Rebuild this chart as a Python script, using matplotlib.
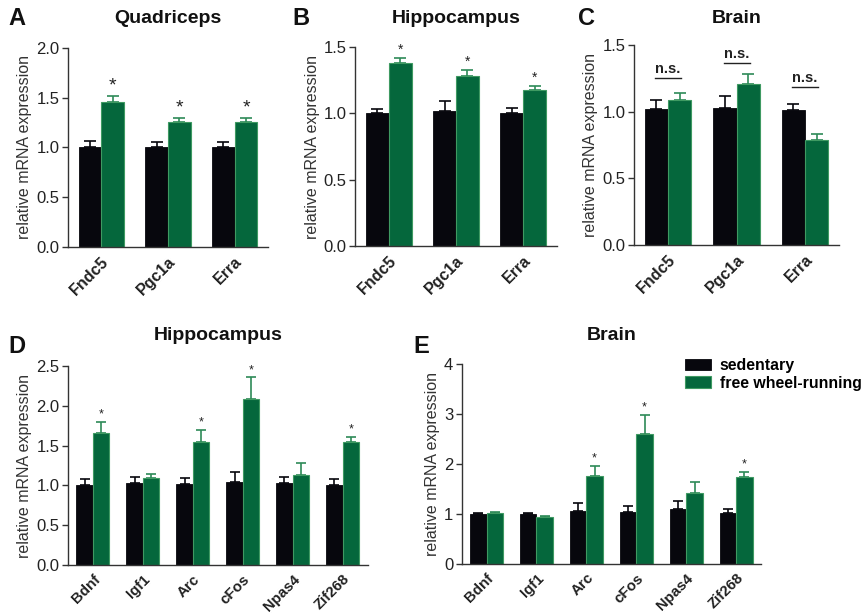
import matplotlib
matplotlib.use("Agg")
import matplotlib.pyplot as plt
import numpy as np

plt.rcParams['font.family'] = ['Liberation Sans', 'DejaVu Sans']

genes_top = ["Fndc5", "Pgc1a", "Erra"]
genes_bot = ["Bdnf", "Igf1", "Arc", "cFos", "Npas4", "Zif268"]

# Panel A: Quadriceps
a_sed = [1.00, 1.00, 1.00]
a_sed_err = [0.06, 0.05, 0.05]
a_run = [1.46, 1.26, 1.26]
a_run_err = [0.06, 0.04, 0.04]
a_sig = ["*", "*", "*"]

# Panel B: Hippocampus
b_sed = [1.00, 1.02, 1.00]
b_sed_err = [0.03, 0.07, 0.04]
b_run = [1.38, 1.28, 1.18]
b_run_err = [0.04, 0.05, 0.03]
b_sig = ["*", "*", "*"]

# Panel C: Brain
c_sed = [1.02, 1.03, 1.01]
c_sed_err = [0.07, 0.09, 0.05]
c_run = [1.09, 1.21, 0.79]
c_run_err = [0.05, 0.07, 0.04]
c_sig = ["n.s.", "n.s.", "n.s."]
c_ns_y = [1.25, 1.365, 1.185]

# Panel D: Hippocampus
d_sed = [1.01, 1.03, 1.02, 1.05, 1.03, 1.01]
d_sed_err = [0.07, 0.08, 0.08, 0.12, 0.08, 0.07]
d_run = [1.66, 1.10, 1.55, 2.09, 1.13, 1.54]
d_run_err = [0.14, 0.04, 0.15, 0.27, 0.15, 0.07]
d_sig = ["*", "", "*", "*", "", "*"]

# Panel E: Brain
e_sed = [1.00, 1.00, 1.07, 1.05, 1.10, 1.03]
e_sed_err = [0.03, 0.03, 0.15, 0.12, 0.17, 0.08]
e_run = [1.02, 0.94, 1.76, 2.60, 1.42, 1.74]
e_run_err = [0.03, 0.01, 0.21, 0.39, 0.22, 0.11]
e_sig = ["", "", "*", "*", "", "*"]

legend_labels = ["sedentary", "free wheel-running"]

BLACK = "#07070d"
GREEN = "#05673c"
GREEN_EDGE = "#3f9a62"
GREEN_ERR = "#2e8a58"
AXCOL = "#333333"
TXT = "#222222"

fig = plt.figure(figsize=(8.66, 6.13), dpi=100)


def panel(rect, cats, sed, sed_err, run, run_err, sig, ylim, yticks, yticklabels,
          title, letter, letter_xy, title_y, width, capsize, star_fs, xfs, ns_y=None,
          legend=False):
    ax = fig.add_axes(rect)
    x = np.arange(len(cats))
    b1 = ax.bar(x - width / 2, sed, width, color=BLACK, edgecolor=BLACK, linewidth=0.6,
                label=legend_labels[0], zorder=2)
    b2 = ax.bar(x + width / 2, run, width, color=GREEN, edgecolor=GREEN_EDGE, linewidth=0.8,
                label=legend_labels[1], zorder=2)
    ax.errorbar(x - width / 2, sed, yerr=[np.zeros(len(sed)), sed_err], fmt='none',
                ecolor=BLACK, elinewidth=1.2, capsize=capsize, capthick=1.2, zorder=1)
    ax.errorbar(x + width / 2, run, yerr=[np.zeros(len(run)), run_err], fmt='none',
                ecolor=GREEN_ERR, elinewidth=1.2, capsize=capsize, capthick=1.2, zorder=1)
    yr = ylim[1] - ylim[0]
    for i, s in enumerate(sig):
        if s == "*":
            top = run[i] + run_err[i]
            ax.text(x[i] + width / 2, top + 0.005 * yr, "*", ha='center', va='bottom',
                    fontsize=star_fs, color=TXT)
        elif s == "n.s.":
            top = ns_y[i]
            ax.plot([x[i] - 0.19, x[i] + 0.19], [top, top], color=TXT, lw=1.0)
            ax.text(x[i], top + 0.01 * yr, "n.s.", ha='center', va='bottom',
                    fontsize=10.5, fontweight='bold', color=TXT)
    ax.set_xlim(-0.5, len(cats) - 0.5)
    ax.set_ylim(*ylim)
    ax.set_yticks(yticks)
    ax.set_yticklabels(yticklabels, fontsize=12, color=TXT)
    ax.set_xticks(x)
    ax.set_xticklabels(cats, rotation=45, ha='right', rotation_mode='anchor',
                       fontsize=xfs, fontweight='bold', color=TXT)
    ax.tick_params(axis='x', length=0, pad=5)
    ax.tick_params(axis='y', length=4, width=1, color=AXCOL, pad=2)
    for sp in ['top', 'right']:
        ax.spines[sp].set_visible(False)
    for sp in ['left', 'bottom']:
        ax.spines[sp].set_color(AXCOL)
        ax.spines[sp].set_linewidth(1.0)
    ax.set_ylabel("relative mRNA expression", fontsize=11.5, color="#333333", labelpad=3)
    cx = rect[0] + rect[2] / 2
    fig.text(cx, title_y, title, ha='center', va='center', fontsize=14, fontweight='bold',
             color="#111111")
    fig.text(letter_xy[0], letter_xy[1], letter, ha='left', va='center', fontsize=17,
             fontweight='bold', color="#111111")
    if legend:
        ax.legend(handles=[b1, b2], loc='upper left', bbox_to_anchor=(0.745, 1.03),
                  frameon=False, prop={'weight': 'bold', 'size': 11.4},
                  handlelength=1.65, handleheight=0.75, handletextpad=0.55, labelspacing=0.15,
                  borderaxespad=0, borderpad=0)
    return ax


panel([0.0785, 0.597, 0.231, 0.325], genes_top, a_sed, a_sed_err, a_run, a_run_err, a_sig,
      (0, 2.0), [0, 0.5, 1.0, 1.5, 2.0], ["0.0", "0.5", "1.0", "1.5", "2.0"],
      "Quadriceps", "A", (0.010, 0.970), 0.970, 0.34, 4.5, 14, 11.5)
panel([0.410, 0.599, 0.233, 0.324], genes_top, b_sed, b_sed_err, b_run, b_run_err, b_sig,
      (0, 1.5), [0, 0.5, 1.0, 1.5], ["0.0", "0.5", "1.0", "1.5"],
      "Hippocampus", "B", (0.338, 0.970), 0.970, 0.34, 4.5, 10, 11.5)
panel([0.732, 0.600, 0.237, 0.327], genes_top, c_sed, c_sed_err, c_run, c_run_err, c_sig,
      (0, 1.5), [0, 0.5, 1.0, 1.5], ["0.0", "0.5", "1.0", "1.5"],
      "Brain", "C", (0.667, 0.970), 0.970, 0.34, 4.5, 10, 11.5, ns_y=c_ns_y)
panel([0.0785, 0.078, 0.346, 0.325], genes_bot, d_sed, d_sed_err, d_run, d_run_err, d_sig,
      (0, 2.5), [0, 0.5, 1.0, 1.5, 2.0, 2.5], ["0.0", "0.5", "1.0", "1.5", "2.0", "2.5"],
      "Hippocampus", "D", (0.010, 0.434), 0.453, 0.33, 3.5, 9, 10.8)
panel([0.533, 0.080, 0.346, 0.326], genes_bot, e_sed, e_sed_err, e_run, e_run_err, e_sig,
      (0, 4), [0, 1, 2, 3, 4], ["0", "1", "2", "3", "4"],
      "Brain", "E", (0.477, 0.434), 0.453, 0.33, 3.5, 9, 10.8, legend=True)

fig.savefig("out.png", dpi=100)
